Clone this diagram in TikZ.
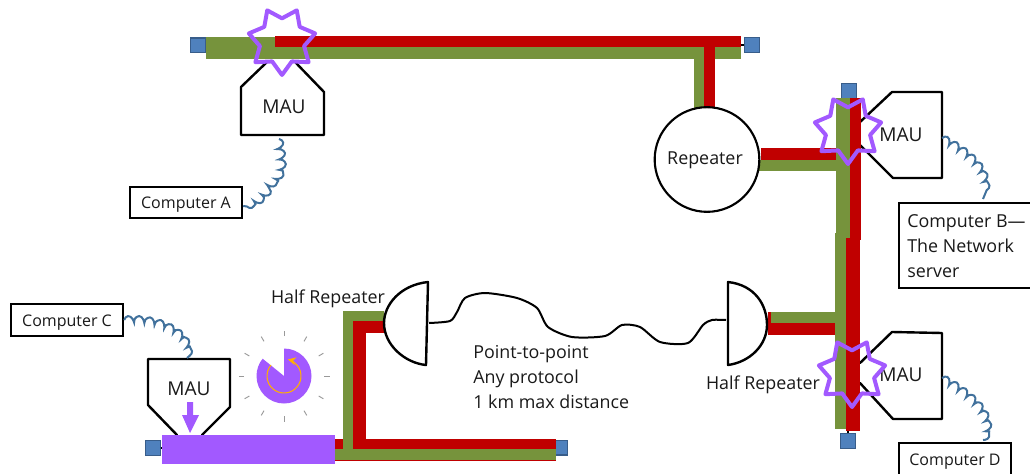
\documentclass[tikz,border=0pt]{standalone}
\usepackage{fontspec}
\setmainfont{Open Sans}
\usetikzlibrary{shapes.geometric,decorations.pathmorphing,arrows.meta}
\definecolor{busgreen}{HTML}{76933C}
\definecolor{busred}{HTML}{C00000}
\definecolor{capfill}{HTML}{4F81BD}
\definecolor{capline}{HTML}{385D8A}
\definecolor{hit}{HTML}{A259FF}
\definecolor{coilblue}{HTML}{41719C}
\definecolor{clockarc}{HTML}{FFB000}
\tikzset{
  every node/.style={text=black!90,inner sep=0pt,font=\fontsize{13.4pt}{18.75pt}\selectfont},
  outline/.style={draw=black,line width=1.8pt,line join=round,line cap=round},
  capbox/.style={draw=capline,fill=capfill,line width=1pt,minimum size=11pt},
  compbox/.style={draw=black,line width=1.8pt,fill=white},
  small/.style={font=\fontsize{12pt}{18pt}\selectfont,text height=9pt,text depth=0pt},
  maulabel/.style={font=\fontsize{14.3pt}{18pt}\selectfont},
  burst/.style={star,star points=7,star point ratio=1.5,minimum size=51pt,shape border rotate=180,draw=hit,line width=3pt,line join=round,inner sep=0pt},
  coilwire/.style={draw=coilblue,line width=1.5pt,decorate,decoration={coil,amplitude=2.6pt,segment length=8pt,aspect=0.45}},
  tick/.style={draw=black!40,line width=0.7pt},
}
\begin{document}
\begin{tikzpicture}[x=0.75pt,y=-0.75pt]
\useasboundingbox (0,0) rectangle (1030,474);
\clip (0,0) rectangle (1030,474);

% MAU outlines
\draw[outline] (267,62) -- (241,87) -- (241,135) -- (324,135) -- (324,92) -- (296,63);
\draw[outline] (860,122) -- (892,92) -- (942,92) -- (942,178) -- (893,178) -- (860,145);
\draw[outline] (860,363) -- (892,332) -- (942,333) -- (942,419) -- (893,419) -- (860,383);
\draw[outline] (177,435) -- (148,405) -- (148,359) -- (230,359) -- (230,407) -- (202,435);

% end caps
\node[capbox] (capTL) at (198,45.5) {};
\node[capbox] (capTR) at (752,45) {};
\node[capbox] (capVT) at (849,91) {};
\node[capbox] (capVB) at (848,441) {};
\node[capbox] (capBL) at (153,448) {};
\node[capbox] (capBR) at (560,447.5) {};
\draw[black,line width=1pt] (741,45) -- (capTR.west);
\draw[black,line width=1pt] (848,431) -- (capVB.north);
\draw[black,line width=1pt] (capBL.east) -- (162,448);

% top bus
\fill[busgreen] (206,37) rectangle (741,59);
\fill[busred] (275,36.5) rectangle (741,47);
\fill[busgreen] (694,59) rectangle (704,108);
\fill[busred] (704,47) rectangle (715,108);

% vertical bus
\fill[busred] (850,98) rectangle (861,240);
\fill[busgreen] (836,98) rectangle (850,238);
\fill[busgreen] (835,233) rectangle (847,429);
\fill[busred] (846,238) rectangle (860,431);

% repeater branch
\fill[busred] (761,148) rectangle (836,160);
\fill[busgreen] (759,160) rectangle (836,171);

% half-repeater branch
\fill[busred] (768,323) rectangle (835,335);
\fill[busred] (768,312) rectangle (771,323);
\fill[busgreen] (771,312) rectangle (835,323);

% lower-left bus
\fill[busred] (335,439) rectangle (556,461);
\fill[busgreen] (335,449) rectangle (556,460);
\fill[busgreen] (343,311) rectangle (384,321);
\fill[busgreen] (343,321) rectangle (353,460);
\fill[busred] (353,321) rectangle (384,333);
\fill[busred] (353,333) rectangle (366,449);

% repeater
\node[circle,draw=black,line width=1.6pt,fill=white,minimum size=78.5pt] (rep) at (707,159.5) {};
\node (repL) at (705,160.5) {Repeater};

% half repeaters
\draw[outline,fill=white] (728,282) .. controls (755,285) and (767,305) .. (767,325) .. controls (767,345) and (750,362) .. (728,365) -- cycle;
\draw[outline,fill=white] (428,282) .. controls (400,285) and (384,305) .. (384,323) .. controls (384,345) and (405,363) .. (426,365) -- cycle;
\coordinate (hrL) at (429,323);
\coordinate (hrR) at (726,320);
\draw[black,line width=1.5pt,line join=round] plot[smooth,tension=0.45] coordinates {(hrL) (450,321) (457,312) (465,298) (485,293) (517,298) (537,308) (548,327) (572,337) (605,336) (622,325) (640,327) (660,342) (688,343) (703,325) (712,320) (hrR)};

% labels
\node[maulabel] (mauA) at (284,107) {MAU};
\node[maulabel] (mauB) at (901,135) {MAU};
\node[maulabel] (mauD) at (901,375) {MAU};
\node[maulabel] (mauC) at (189,389) {MAU};
\node (hrLa) at (328,298.5) {Half Repeater};
\node (hrLb) at (763,384.5) {Half Repeater};
\node[align=left,anchor=north west] (ptp) at (473,345.5) {Point-to-point\\Any protocol\\1 km max distance};

% computers
\node[compbox,small,minimum width=84pt,minimum height=23pt] (compA) at (186,202.5) {Computer A};
\node[compbox,small,minimum width=84pt,minimum height=24pt] (compC) at (67,320) {Computer C};
\draw[compbox] (899,203) rectangle (1036,288);
\node[align=left,anchor=north west] (compB) at (907,214) {Computer B—\\The Network\\server};
\node[compbox,small,minimum width=84pt,minimum height=25pt] (compD) at (955,459.5) {Computer D};

% coils
\coordinate (cA) at (279,139);
\coordinate (cB) at (942,138);
\coordinate (cC) at (187,358);
\coordinate (cD) at (942,378);
\draw[coilwire] (cA) .. controls (284,165) and (284,172) .. (273,183) .. controls (266,196) and (258,204) .. (compA.east|-0,206);
\draw[coilwire] (cB) .. controls (965,150) and (995,170) .. (983,199);
\draw[coilwire] (compC.east) .. controls (160,316) and (195,335) .. (cC);
\draw[coilwire] (cD) .. controls (965,390) and (1000,415) .. (983,440);

% hit rectangle and arrow
\fill[hit] (162,435) rectangle (335,464);
\fill[hit] (187,402) -- (193,402) -- (193,415) -- (199,415) -- (190,433) -- (182,415) -- (187,415) -- cycle;

% clock
\begin{scope}[shift={(284,376)},x=0.75pt,y=0.75pt]
  \fill[hit] (0,0) -- (90:27.5) arc[start angle=90,end angle=-219,radius=27.5*0.75pt] -- cycle;
  \foreach \a in {0,30,...,330} \draw[tick] (\a:40) -- (\a:45.5);
  \draw[clockarc,line width=0.8pt,-{Stealth[length=6pt,width=6pt]}] (140:17) arc[start angle=140,end angle=437,radius=17*0.75pt];
\end{scope}

% collision bursts
\node[burst] (hitA) at (282,41) {};
\node[burst] (hitB) at (848,130) {};
\node[burst] (hitD) at (852,373) {};
\end{tikzpicture}
\end{document}
